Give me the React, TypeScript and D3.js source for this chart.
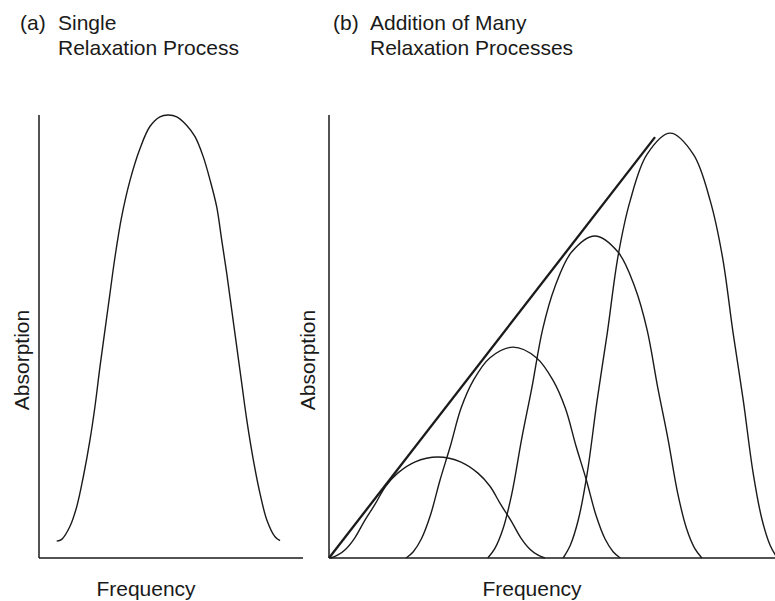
import React from 'react';
import * as d3 from 'd3';

const W = 775;
const H = 601;

// Titles and axis labels
const titleA = ['(a)', 'Single', 'Relaxation Process'];
const titleB = ['(b)', 'Addition of Many', 'Relaxation Processes'];
const xLabel = 'Frequency';
const yLabel = 'Absorption';

// Panel (a): single relaxation band (frequency 0-100, absorption 0-100, arbitrary units)
const singleFreq = [6.7, 8.6, 11.7, 14.3, 16.8, 19.3, 21.2, 23.1, 25.0, 26.9, 28.8, 31.3, 34.5, 38.3, 42.0, 45.8, 48.9, 52.2, 55.9, 59.1, 62.2, 64.8, 67.3, 69.2, 71.1, 73.0, 74.9, 76.8, 78.7, 81.2, 83.7, 86.3, 89.4, 91.3];
const singleAbs = [3.8, 4.2, 7.1, 11.6, 18.4, 26.6, 34.2, 43.2, 51.5, 59.8, 68.0, 77.0, 85.3, 92.5, 97.4, 99.6, 100, 99.6, 97.7, 95.1, 90.6, 85.3, 79.3, 71.8, 64.3, 56.0, 47.7, 39.4, 31.2, 22.1, 14.6, 8.6, 4.8, 3.9];

// Panel (b): band shape (offset from peak, fraction of peak height)
const bandOffset = [-24.0, -22.4, -20.6, -18.6, -16.4, -14.1, -11.7, -9.0, -5.2, 0, 5.2, 9.0, 11.7, 14.1, 16.4, 18.6, 20.6, 22.4, 24.0];
const bandShape = [0, 0.03, 0.09, 0.2, 0.37, 0.53, 0.71, 0.84, 0.95, 1, 0.95, 0.84, 0.71, 0.53, 0.37, 0.2, 0.09, 0.03, 0];
const bandCenters = [24.4, 41.3, 59.6, 76.5];
const bandHeights = [22.8, 47.6, 72.7, 95.9];

// Envelope (straight line) of panel (b)
const envelopeFreq = [0, 73.1];
const envelopeAbs = [0, 95.0];

const INK = '#1a1a1a';
const FONT = '"Liberation Sans", Arial, Helvetica, sans-serif';

export default function App() {
  const yScale = d3.scaleLinear().domain([0, 100]).range([558, 115]);
  const xA = d3.scaleLinear().domain([0, 100]).range([39, 303]);
  const xB = d3.scaleLinear().domain([0, 100]).range([329, 775]);

  const lineA = d3
    .line<[number, number]>()
    .x((d) => xA(d[0]))
    .y((d) => yScale(d[1]))
    .curve(d3.curveCatmullRom.alpha(0.5));
  const lineB = d3
    .line<[number, number]>()
    .x((d) => xB(d[0]))
    .y((d) => yScale(d[1]))
    .curve(d3.curveCatmullRom.alpha(0.5));
  const straightB = d3
    .line<[number, number]>()
    .x((d) => xB(d[0]))
    .y((d) => yScale(d[1]));

  const singlePts: [number, number][] = singleFreq.map((f, i) => [f, singleAbs[i]]);
  const bands: [number, number][][] = bandCenters.map((c, k) =>
    bandOffset.map((o, i) => [c + o, bandHeights[k] * bandShape[i]] as [number, number])
  );
  const envPts: [number, number][] = envelopeFreq.map((f, i) => [f, envelopeAbs[i]]);

  const textStyle = { fontFamily: FONT, fontSize: 21, fill: INK } as const;

  return (
    <svg
      width={W}
      height={H}
      viewBox={`0 0 ${W} ${H}`}
      style={{ position: 'absolute', left: 0, top: 0, background: '#fff' }}
    >
      <rect x={0} y={0} width={W} height={H} fill="#fff" />

      {/* Titles */}
      <text x={20} y={30} {...textStyle}>{titleA[0]}</text>
      <text x={58} y={30} {...textStyle}>{titleA[1]}</text>
      <text x={58} y={55} {...textStyle}>{titleA[2]}</text>
      <text x={333} y={30} {...textStyle}>{titleB[0]}</text>
      <text x={370} y={30} {...textStyle}>{titleB[1]}</text>
      <text x={370} y={55} {...textStyle}>{titleB[2]}</text>

      {/* Panel (a) axes */}
      <line x1={xA(0)} x2={xA(0)} y1={yScale(0)} y2={yScale(100)} stroke={INK} strokeWidth={1.5} />
      <line x1={xA(0)} x2={xA(100)} y1={yScale(0)} y2={yScale(0)} stroke={INK} strokeWidth={1.5} />
      {/* Panel (b) axes */}
      <line x1={xB(0)} x2={xB(0)} y1={yScale(0)} y2={yScale(100)} stroke={INK} strokeWidth={1.5} />
      <line x1={xB(0)} x2={xB(100)} y1={yScale(0)} y2={yScale(0)} stroke={INK} strokeWidth={1.5} />

      {/* Panel (a) curve */}
      <path d={lineA(singlePts) || ''} fill="none" stroke={INK} strokeWidth={1.4} />

      {/* Panel (b) bands */}
      {bands.map((b, k) => (
        <path key={k} d={lineB(b) || ''} fill="none" stroke={INK} strokeWidth={1.4} />
      ))}
      <path d={straightB(envPts) || ''} fill="none" stroke={INK} strokeWidth={2.3} />

      {/* Axis labels */}
      <text x={146} y={596} textAnchor="middle" {...textStyle}>{xLabel}</text>
      <text x={532} y={596} textAnchor="middle" {...textStyle}>{xLabel}</text>
      <text transform={`translate(29,360) rotate(-90)`} textAnchor="middle" {...textStyle}>{yLabel}</text>
      <text transform={`translate(315,360) rotate(-90)`} textAnchor="middle" {...textStyle}>{yLabel}</text>
    </svg>
  );
}
